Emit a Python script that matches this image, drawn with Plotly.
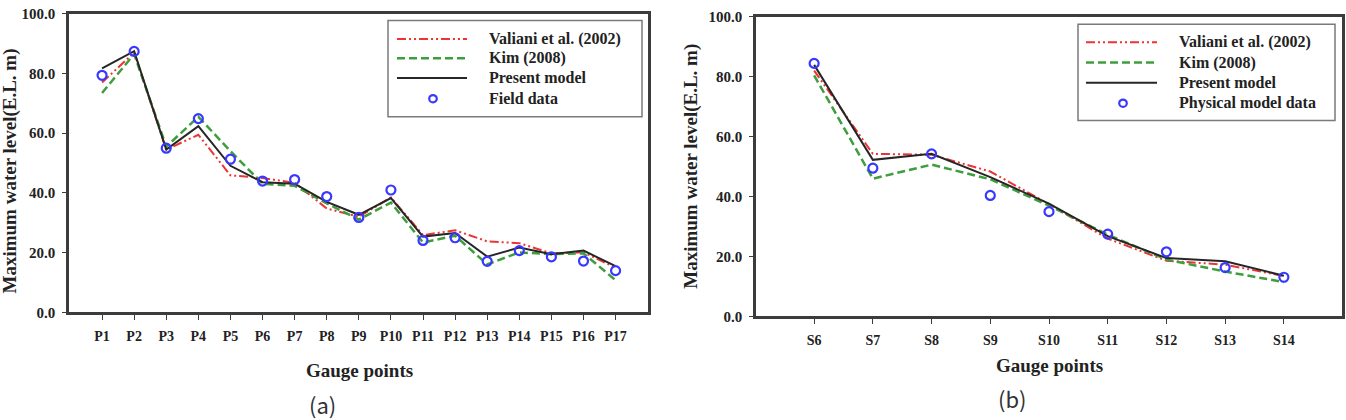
import plotly.graph_objects as go

# ---------------- data ----------------
gauges_a = ["P1", "P2", "P3", "P4", "P5", "P6", "P7", "P8", "P9", "P10",
            "P11", "P12", "P13", "P14", "P15", "P16", "P17"]
valiani_a = [77.0, 87.0, 54.5, 59.5, 45.9, 45.0, 43.4, 34.8, 32.0, 38.5,
             25.9, 27.5, 23.8, 23.2, 19.8, 20.1, 15.0]
kim_a = [73.5, 86.5, 55.5, 65.5, 54.0, 43.1, 42.4, 36.5, 31.1, 36.8,
         23.4, 25.7, 16.1, 20.1, 19.5, 19.8, 10.8]
present_a = [81.7, 87.5, 54.5, 62.4, 49.1, 43.6, 43.1, 37.0, 32.7, 38.3,
             25.4, 26.6, 18.7, 21.7, 19.5, 20.7, 15.5]
field_a = [79.4, 87.4, 55.0, 64.9, 51.3, 44.0, 44.5, 38.8, 31.8, 41.0,
           24.1, 25.0, 17.1, 20.7, 18.6, 17.2, 14.0]

gauges_b = ["S6", "S7", "S8", "S9", "S10", "S11", "S12", "S13", "S14"]
valiani_b = [82.1, 54.3, 54.0, 48.4, 37.5, 26.0, 18.6, 17.3, 13.5]
kim_b = [80.5, 46.0, 50.7, 45.8, 37.0, 27.3, 19.0, 15.0, 11.5]
present_b = [84.0, 52.3, 54.3, 46.5, 37.7, 26.8, 19.5, 18.4, 13.6]
physical_b = [84.5, 49.5, 54.3, 40.4, 35.0, 27.5, 21.6, 16.3, 13.1]

y_ticks = [0, 20, 40, 60, 80, 100]

# ---------------- styling ----------------
W, H = 1346, 420
SERIF = "Liberation Serif, Times New Roman, serif"
RED, GREEN, BLACK, BLUE = "#ec3434", "#3e9e3e", "#262626", "#3838ff"
RED_DASH = "9px,3px,2px,3px,2px,3px"
GREEN_DASH = "8px,4px"
FRAME = "#3c3c3c"


def px(x):
    return x / W


def py(y):
    return 1 - y / H


fig = go.Figure()


def add_series(xs, val, kim, pres, obs, xa, ya):
    fig.add_trace(go.Scatter(x=xs, y=val, mode="lines", xaxis=xa, yaxis=ya,
                             line=dict(color=RED, width=2, dash=RED_DASH),
                             showlegend=False))
    fig.add_trace(go.Scatter(x=xs, y=kim, mode="lines", xaxis=xa, yaxis=ya,
                             line=dict(color=GREEN, width=2.5, dash=GREEN_DASH),
                             showlegend=False))
    fig.add_trace(go.Scatter(x=xs, y=pres, mode="lines", xaxis=xa, yaxis=ya,
                             line=dict(color=BLACK, width=2),
                             showlegend=False))
    fig.add_trace(go.Scatter(x=xs, y=obs, mode="markers", xaxis=xa, yaxis=ya,
                             marker=dict(symbol="circle-open", size=9, color=BLUE,
                                         line=dict(width=2.2, color=BLUE)),
                             showlegend=False))


add_series(gauges_a, valiani_a, kim_a, present_a, field_a, "x", "y")
add_series(gauges_b, valiani_b, kim_b, present_b, physical_b, "x2", "y2")

xtickfont = dict(family=SERIF, size=14, color="#222", weight="bold")
ytickfont = dict(family=SERIF, size=15, color="#222", weight="bold")
xcommon = dict(type="category", showline=True, mirror=True, linecolor=FRAME,
               linewidth=2.5, ticks="outside", ticklen=5, tickwidth=1,
               tickcolor=FRAME, showgrid=False, zeroline=False,
               tickfont=xtickfont, ticklabelstandoff=4)
ycommon = dict(showline=True, mirror=True, linecolor=FRAME, linewidth=2.5,
               ticks="outside", ticklen=4, tickwidth=1, tickcolor=FRAME,
               showgrid=False, zeroline=False, range=[0, 100],
               tickvals=y_ticks, tickformat=".1f",
               tickfont=ytickfont, ticklabelstandoff=4)

fig.update_layout(
    width=W, height=H, margin=dict(l=0, r=0, t=0, b=0),
    paper_bgcolor="white", plot_bgcolor="white", showlegend=False,
    xaxis=dict(xcommon, domain=[px(69), px(648)], range=[-1.03, 17.01], anchor="y"),
    yaxis=dict(ycommon, domain=[py(316.5), py(6)], anchor="x"),
    xaxis2=dict(xcommon, domain=[px(756), px(1342)], range=[-0.99, 8.99], anchor="y2"),
    yaxis2=dict(ycommon, domain=[py(320.7), py(9.3)], anchor="x2"),
)

shapes = []
annotations = []


def add_legend(box, ys, line_x, circ_x, text_x, labels):
    x0, x1, y0, y1 = box
    shapes.append(dict(type="rect", xref="paper", yref="paper",
                       x0=px(x0), x1=px(x1), y0=py(y1), y1=py(y0),
                       line=dict(color="#7a7a7a", width=1.5),
                       fillcolor="rgba(0,0,0,0)"))
    styles = [dict(color=RED, width=2, dash=RED_DASH),
              dict(color=GREEN, width=2.5, dash=GREEN_DASH),
              dict(color=BLACK, width=2)]
    for i, st in enumerate(styles):
        shapes.append(dict(type="line", xref="paper", yref="paper",
                           x0=px(line_x[0]), x1=px(line_x[1]),
                           y0=py(ys[i]), y1=py(ys[i]), line=st))
    r = 3.8
    shapes.append(dict(type="circle", xref="paper", yref="paper",
                       x0=px(circ_x - r), x1=px(circ_x + r),
                       y0=py(ys[3] + r), y1=py(ys[3] - r),
                       line=dict(color=BLUE, width=2.2)))
    for i, lab in enumerate(labels):
        annotations.append(dict(xref="paper", yref="paper", x=px(text_x),
                                y=py(ys[i]), xanchor="left", yanchor="middle",
                                showarrow=False, text="<b>" + lab + "</b>",
                                font=dict(family=SERIF, size=16, color="#222")))


add_legend((388, 642, 13, 113), [32.3, 52.3, 72.7, 94.3], (397, 467), 433, 487,
           ["Valiani et al. (2002)", "Kim (2008)", "Present model", "Field data"])
add_legend((1078, 1335, 17, 117), [35.7, 56.7, 77.7, 99], (1086, 1157), 1123, 1177,
           ["Valiani et al. (2002)", "Kim (2008)", "Present model",
            "Physical model data"])

# axis titles
for (x, y) in [(359, 377), (1049, 372)]:
    annotations.append(dict(xref="paper", yref="paper", x=px(x), y=py(y),
                            xanchor="center", yanchor="middle", showarrow=False,
                            text="<b>Gauge points</b>",
                            font=dict(family=SERIF, size=19, color="#222")))
for (x, y) in [(10, 170), (691, 164)]:
    annotations.append(dict(xref="paper", yref="paper", x=px(x), y=py(y),
                            xanchor="center", yanchor="middle", showarrow=False,
                            textangle=-90,
                            text="<b>Maximum water level(E.L. m)</b>",
                            font=dict(family=SERIF, size=19, color="#222")))
# panel captions
for (x, y, t) in [(322, 412, "(a)"), (1012, 405, "(b)")]:
    annotations.append(dict(xref="paper", yref="paper", x=px(x), y=py(y),
                            xanchor="center", yanchor="middle", showarrow=False,
                            text=t,
                            font=dict(family="Noto Sans CJK KR, Noto Sans, sans-serif",
                                      size=22, color="#333")))

fig.update_layout(shapes=shapes, annotations=annotations)
fig.write_html("out.html")
